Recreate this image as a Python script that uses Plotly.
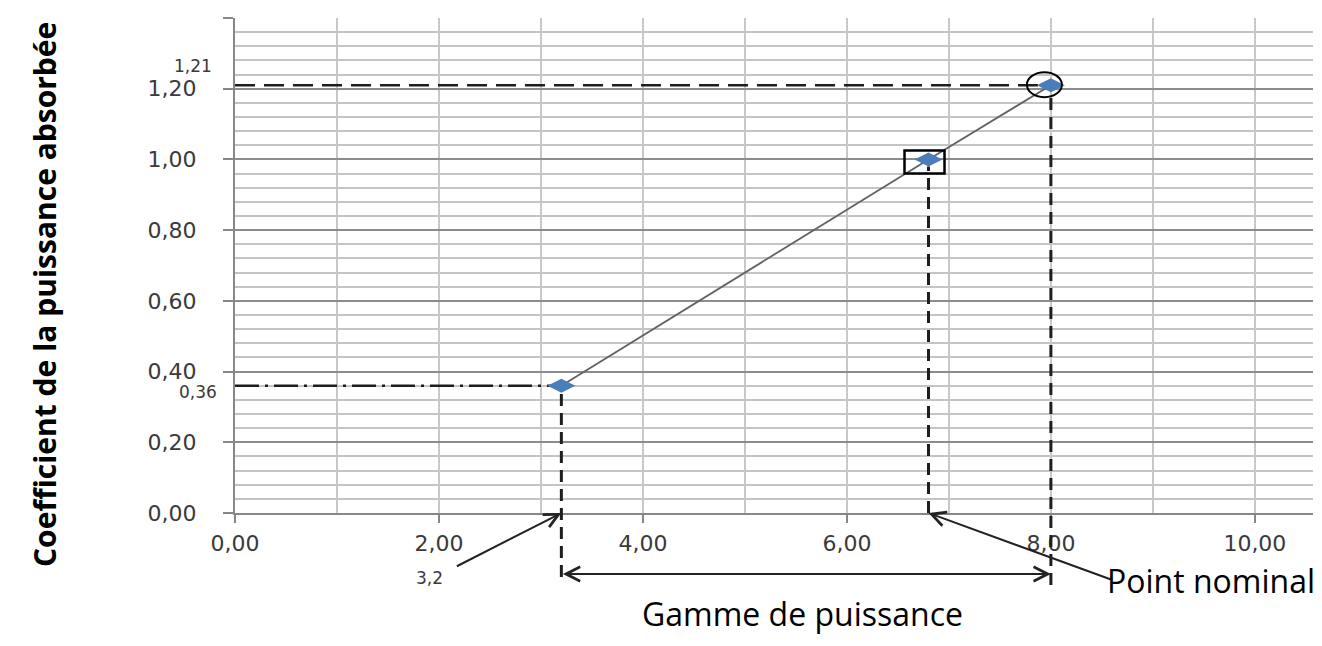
import plotly.graph_objects as go

# ---------------- data ----------------
puissance = [3.2, 6.8, 8.0]
coefficient = [0.36, 1.00, 1.21]

x_tick_vals = [0, 2, 4, 6, 8, 10]
x_tick_text = ["0,00", "2,00", "4,00", "6,00", "8,00", "10,00"]
y_tick_vals = [0.0, 0.2, 0.4, 0.6, 0.8, 1.0, 1.2, 1.4]
y_tick_text = ["0,00", "0,20", "0,40", "0,60", "0,80", "1,00", "1,20", "1,40"]

x_range = [0, 10.57]
y_range = [0, 1.4]

x_min_pt, x_nom_pt, x_max_pt = puissance
y_min_pt, y_nom_pt, y_max_pt = coefficient

# ---------------- layout geometry ----------------
# the page body has an 8px default margin, so the figure is drawn 8px in
OFF = 8
W, H = 1322 - 2 * OFF, 646 - 2 * OFF
ML, MT = 235 - OFF, 18 - OFF
MR = W - (1313 - OFF)
MB = H - (513 - OFF)
PLOT_W = W - ML - MR
PLOT_H = H - MT - MB
AXIS_Y = 513  # window row of the x axis


def below_axis(px):
    """paper-y for a point px pixels below the x axis"""
    return -px / PLOT_H


def paper_y(v):
    return (v - y_range[0]) / (y_range[1] - y_range[0])


def paper_x_px(px):
    """paper-x for a window pixel column"""
    return (px - OFF - ML) / PLOT_W


def paper_y_px(py):
    """paper-y for a window pixel row"""
    return (AXIS_Y - py) / PLOT_H


TICK_FONT = dict(family="DejaVu Sans", size=22, color="#3a3a3a")
SMALL_FONT = dict(family="DejaVu Sans", size=17, color="#3a3a3a")
TEXT_FONT = dict(family="Open Sans", size=32, color="#000000")
DASH_COLOR = "#1e1e1e"
GAP = 7 / PLOT_H  # keeps the vertical guides just under the markers

fig = go.Figure()

fig.add_trace(go.Scatter(
    x=puissance, y=coefficient,
    mode="lines+markers",
    line=dict(color="#626262", width=1.8),
    marker=dict(symbol="diamond-wide", size=20, color="#4a7ebb"),
    cliponaxis=False,
    showlegend=False,
    hoverinfo="x+y",
))

shapes = []
# white label boxes that hide the grid next to the axis
shapes.append(dict(type="rect", xref="paper", yref="paper",
                   x0=paper_x_px(237), x1=paper_x_px(246), y0=paper_y_px(78), y1=paper_y_px(43),
                   fillcolor="white", line=dict(width=0), layer="between"))
shapes.append(dict(type="rect", xref="paper", yref="paper",
                   x0=paper_x_px(237), x1=paper_x_px(247), y0=paper_y_px(401), y1=paper_y_px(368),
                   fillcolor="white", line=dict(width=0), layer="between"))
# horizontal dashed guides
shapes.append(dict(type="line", xref="x", yref="y", x0=x_range[0], x1=x_max_pt,
                   y0=y_max_pt, y1=y_max_pt, layer="between",
                   line=dict(color=DASH_COLOR, width=2.5, dash="20px,9px")))
shapes.append(dict(type="line", xref="x", yref="y", x0=x_range[0], x1=x_min_pt,
                   y0=y_min_pt, y1=y_min_pt, layer="between",
                   line=dict(color=DASH_COLOR, width=2.5, dash="24px,6px,3px,6px")))
# vertical dashed guides
shapes.append(dict(type="line", xref="x", yref="paper", x0=x_min_pt, x1=x_min_pt,
                   y0=below_axis(64), y1=paper_y(y_min_pt) - GAP, layer="above",
                   line=dict(color=DASH_COLOR, width=3, dash="12px,7px")))
shapes.append(dict(type="line", xref="x", yref="paper", x0=x_nom_pt, x1=x_nom_pt,
                   y0=0, y1=paper_y(y_nom_pt) - GAP, layer="above",
                   line=dict(color=DASH_COLOR, width=3, dash="12px,7px")))
shapes.append(dict(type="line", xref="x", yref="paper", x0=x_max_pt, x1=x_max_pt,
                   y0=below_axis(72), y1=paper_y(y_max_pt) - GAP, layer="above",
                   line=dict(color=DASH_COLOR, width=3, dash="12px,7px")))
# circle around max point
shapes.append(dict(type="circle", xref="x", yref="y",
                   xsizemode="pixel", xanchor=x_max_pt, x0=-24, x1=11,
                   ysizemode="pixel", yanchor=y_max_pt, y0=-12, y1=13,
                   line=dict(color="#000000", width=2), layer="above"))
# rectangle around nominal point
shapes.append(dict(type="rect", xref="x", yref="y",
                   xsizemode="pixel", xanchor=x_nom_pt, x0=-24, x1=16,
                   ysizemode="pixel", yanchor=y_nom_pt, y0=-14, y1=9,
                   line=dict(color="#000000", width=2.5), layer="above"))

annotations = []
# y title
annotations.append(dict(text="<b>Coefficient de la puissance absorbée</b>",
                        xref="paper", yref="paper", x=paper_x_px(44), y=below_axis(-218),
                        textangle=-90, showarrow=False,
                        font=dict(family="Open Sans", size=30, color="#000"),
                        xanchor="center", yanchor="middle"))
# small value labels
annotations.append(dict(text="1,21", xref="paper", yref="y", x=paper_x_px(214), y=y_max_pt,
                        yshift=19, showarrow=False, font=SMALL_FONT, xanchor="right", yanchor="middle"))
annotations.append(dict(text="0,36", xref="paper", yref="y", x=paper_x_px(219), y=y_min_pt,
                        yshift=-6, showarrow=False, font=SMALL_FONT, xanchor="right", yanchor="middle"))
annotations.append(dict(text="3,2", xref="paper", yref="paper", x=paper_x_px(429), y=below_axis(65),
                        showarrow=False, font=SMALL_FONT, xanchor="center", yanchor="middle"))
# arrow to 3.2
annotations.append(dict(text="", x=x_min_pt, y=0, xref="x", yref="paper",
                        ax=-106, ay=54, axref="pixel", ayref="pixel",
                        showarrow=True, arrowhead=5, arrowsize=1.4, arrowwidth=2,
                        arrowcolor="#222222", standoff=0))
# arrow to nominal point
annotations.append(dict(text="", x=x_nom_pt, y=0, xref="x", yref="paper",
                        ax=184, ay=67, axref="pixel", ayref="pixel",
                        showarrow=True, arrowhead=5, arrowsize=1.4, arrowwidth=2,
                        arrowcolor="#222222", standoff=0))
# double arrow (gamme)
annotations.append(dict(text="", x=x_max_pt, y=below_axis(61), xref="x", yref="paper",
                        ax=x_min_pt, ay=0, axref="x", ayref="pixel",
                        showarrow=True, arrowhead=5, startarrowhead=5, arrowside="end+start",
                        arrowsize=1.4, startarrowsize=1.4, arrowwidth=2,
                        arrowcolor="#222222", standoff=0, startstandoff=0))
annotations.append(dict(text="Gamme de puissance", xref="paper", yref="paper",
                        x=paper_x_px(802), y=below_axis(100), showarrow=False,
                        font=TEXT_FONT, xanchor="center", yanchor="middle"))
annotations.append(dict(text="Point nominal", xref="paper", yref="paper",
                        x=paper_x_px(1211), y=below_axis(67), showarrow=False,
                        font=TEXT_FONT, xanchor="center", yanchor="middle"))

fig.update_layout(
    width=W, height=H,
    margin=dict(l=ML, r=MR, t=MT, b=MB, pad=0),
    paper_bgcolor="white", plot_bgcolor="white",
    shapes=shapes, annotations=annotations,
    showlegend=False,
)

fig.update_xaxes(
    range=x_range, tickmode="array", tickvals=x_tick_vals, ticktext=x_tick_text,
    showgrid=True, gridcolor="#c8c8c8", gridwidth=2,
    minor=dict(dtick=1, tick0=0, showgrid=True, gridcolor="#c8c8c8", gridwidth=2, ticks=""),
    showline=True, linecolor="#878787", linewidth=2,
    ticks="outside", ticklen=8, tickwidth=2, tickcolor="#878787",
    tickfont=TICK_FONT, ticklabelstandoff=2, zeroline=False,
)
fig.update_yaxes(
    range=y_range, tickmode="array", tickvals=y_tick_vals, ticktext=y_tick_text,
    showgrid=True, gridcolor="#8c8c8c", gridwidth=1.5,
    minor=dict(dtick=0.04, tick0=0, showgrid=True, gridcolor="#c4c4c4", gridwidth=1.5, ticks=""),
    showline=True, linecolor="#878787", linewidth=2,
    ticks="outside", ticklen=10, tickwidth=1.5, tickcolor="#878787",
    tickfont=TICK_FONT, ticklabelstandoff=22, zeroline=False,
)

fig.write_html("out.html")
